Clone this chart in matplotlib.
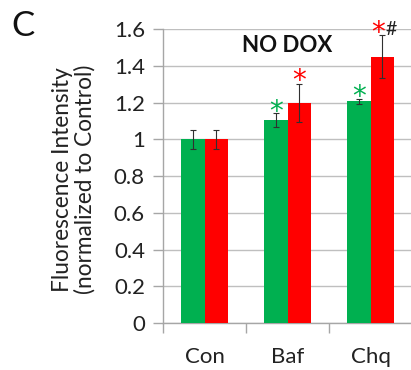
import matplotlib
matplotlib.use("Agg")
import matplotlib.pyplot as plt
import numpy as np

categories = ["Con", "Baf", "Chq"]
green_vals = [1.0, 1.106, 1.208]
green_err = [0.05, 0.04, 0.012]
red_vals = [1.0, 1.2, 1.45]
red_err = [0.053, 0.105, 0.117]
yticks = [0, 0.2, 0.4, 0.6, 0.8, 1, 1.2, 1.4, 1.6]
ytick_labels = ["0", "0.2", "0.4", "0.6", "0.8", "1", "1.2", "1.4", "1.6"]

plt.rcParams['font.family'] = ['Lato', 'DejaVu Sans']

W, H = 411, 370
fig = plt.figure(figsize=(W/100, H/100), dpi=100)
ax = fig.add_axes([163/W, 1-323/H, (412-163)/W, (323-29.4)/H])

GREEN = "#00B050"
RED = "#FF0000"
x = np.arange(len(categories))
bw = 0.28
ekw = dict(ecolor="#303030", elinewidth=0.8, capsize=2.5, capthick=0.8)
ax.bar(x - bw/2, green_vals, bw, color=GREEN, yerr=green_err, error_kw=ekw, zorder=3)
ax.bar(x + bw/2, red_vals, bw, color=RED, yerr=red_err, error_kw=ekw, zorder=3)

ax.set_xlim(-0.5, 2.5)
ax.set_ylim(0, 1.6)
ax.set_yticks(yticks)
ax.set_yticklabels(ytick_labels, fontsize=16, color="#222222")
ax.yaxis.grid(True, color="#BFBFBF", linewidth=1.0, zorder=0)
ax.set_axisbelow(True)

ax.set_xticks(x)
ax.set_xticklabels(categories, fontsize=16, color="#222222")
ax.tick_params(axis='x', length=0, pad=17)
ax.set_xticks([-0.5, 0.5, 1.5, 2.5], minor=True)
ax.tick_params(axis='x', which='minor', length=7, color="#A6A6A6", width=1)
ax.tick_params(axis='y', length=7, color="#A6A6A6", width=1, pad=6)

for s in ["top", "right"]:
    ax.spines[s].set_visible(False)
for s in ["left", "bottom"]:
    ax.spines[s].set_color("#A6A6A6")
    ax.spines[s].set_linewidth(1)

ax.set_ylabel("Fluorescence Intensity\n(normalized to Control)", fontsize=16.3,
              color="#222222", linespacing=1.1)
ax.yaxis.set_label_coords(-0.27, 0.49)

# significance marks
ast_kw = dict(ha="center", va="center", fontsize=20, family=["DejaVu Sans"])
ax.text(1 - bw/2, 1.193 - 0.041, "*", color=GREEN, **ast_kw)
ax.text(1 + bw/2, 1.362 - 0.041, "*", color=RED, **ast_kw)
ax.text(2 - bw/2, 1.27 - 0.041, "*", color=GREEN, **ast_kw)
ax.text(2 + bw/2 - 0.05, 1.624 - 0.041, "*", color=RED, **ast_kw)
ax.text(2 + bw/2 + 0.105, 1.60, "#", color="#222222", ha="center", va="center", fontsize=14)

ax.text(1.0, 1.51, "NO DOX", ha="center", va="center", fontsize=16, fontweight="bold",
        color="#111111")

fig.text(11/W, 1-26/H, "C", ha="left", va="center", fontsize=25, color="#111111")

fig.savefig("out.png", dpi=100)
